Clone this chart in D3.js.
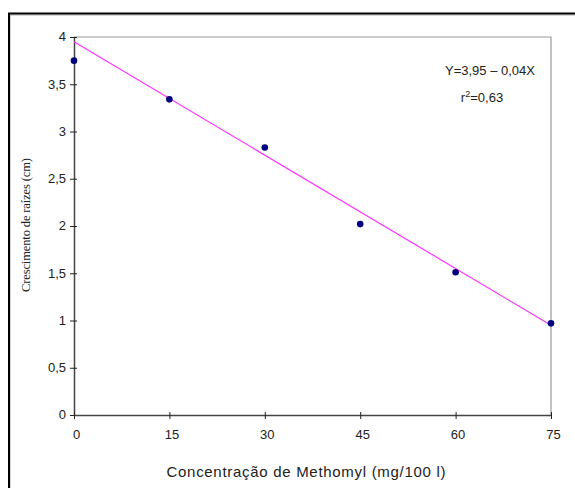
<!DOCTYPE html>
<html><head><meta charset="utf-8">
<script src="https://cdn.jsdelivr.net/npm/d3@7"></script>
<style>body{margin:0;background:#fff}svg{display:block}</style>
</head><body>
<svg id="c" width="575" height="488"></svg>
<script>
const concentrations = [0, 15, 30, 45, 60, 75];
const growth = [3.75, 3.34, 2.83, 2.02, 1.51, 0.97];
const xTicks = [0, 15, 30, 45, 60, 75];
const yTicks = [0, 0.5, 1, 1.5, 2, 2.5, 3, 3.5, 4];
const fitIntercept = 3.95, fitSlope = -0.04;
const eqLabel = "Y=3,95 \u2013 0,04X";
const r2Label = "=0,63";

const svg = d3.select("#c");
const x = d3.scaleLinear().domain([0, 75]).range([74, 551]);
const y = d3.scaleLinear().domain([0, 4]).range([415, 37]);
const fmt = d => String(d).replace(".", ",");

// outer frame
svg.append("path").attr("d","M10,489 V15 H576").attr("fill","none").attr("stroke","#b0b0b0").attr("stroke-width",1);
svg.append("path").attr("d","M9,489 V13.5 H576").attr("fill","none").attr("stroke","#000").attr("stroke-width",2);

// plot area border (top, right)
svg.append("path").attr("d",`M${x(0)},${y(4)} H${x(75)} V${y(0)}`).attr("fill","none").attr("stroke","#999").attr("stroke-width",1.2);

// y axis
const ya = svg.append("g").attr("transform",`translate(${x(0)},0)`)
  .call(d3.axisLeft(y).tickValues(yTicks).tickFormat(fmt).tickSizeInner(4).tickSizeOuter(0).tickPadding(4));
ya.selectAll(".tick line").attr("x2",3).attr("x1",-4);
// x axis
const xa = svg.append("g").attr("transform",`translate(0,${y(0)})`)
  .call(d3.axisBottom(x).tickValues(xTicks).tickSizeInner(4).tickSizeOuter(0).tickPadding(11));
xa.selectAll(".tick line").attr("y1",-3).attr("y2",4);
[ya, xa].forEach(a=>{
  a.select(".domain").attr("stroke","#444").attr("stroke-width",1.5);
  a.selectAll(".tick line").attr("stroke","#222").attr("stroke-width",1);
  a.selectAll("text").attr("font-family","Liberation Sans, Arial, sans-serif").attr("font-size",13).attr("fill","#222");
});
xa.selectAll("text").attr("dx",2);
ya.selectAll("text").attr("dy","0.3em");

// regression line
svg.append("line")
  .attr("x1",x(0)).attr("y1",y(fitIntercept))
  .attr("x2",x(75)).attr("y2",y(fitIntercept+fitSlope*75))
  .attr("stroke","#ff33ff").attr("stroke-width",1.2);

// points
svg.selectAll("circle.pt").data(concentrations).join("circle")
  .attr("class","pt").attr("cx",d=>x(d)).attr("cy",(d,i)=>y(growth[i])).attr("r",3.3).attr("fill","#000080");

// equation
svg.append("text").attr("x",490).attr("y",75).attr("text-anchor","middle")
  .attr("font-family","Liberation Sans, Arial, sans-serif").attr("font-size",13).attr("fill","#222").text(eqLabel);
const r2 = svg.append("text").attr("x",482).attr("y",102).attr("text-anchor","middle")
  .attr("font-family","Liberation Sans, Arial, sans-serif").attr("font-size",13).attr("fill","#222");
r2.append("tspan").text("r");
r2.append("tspan").attr("font-size",9).attr("dy",-5).text("2");
r2.append("tspan").attr("dy",5).text(r2Label);

// axis titles
svg.append("text").attr("x",306).attr("y",477).attr("text-anchor","middle")
  .attr("font-family","Liberation Sans, Arial, sans-serif").attr("font-size",15).attr("fill","#222")
  .attr("textLength",279).attr("lengthAdjust","spacing")
  .text("Concentração de Methomyl (mg/100 l)");
svg.append("text").attr("transform","translate(30,225) rotate(-90)").attr("text-anchor","middle")
  .attr("font-family","Liberation Serif, Times New Roman, serif").attr("font-size",12.5).attr("fill","#222")
  .attr("textLength",134).attr("lengthAdjust","spacing")
  .text("Crescimento de raízes (cm)");
</script>
</body></html>
